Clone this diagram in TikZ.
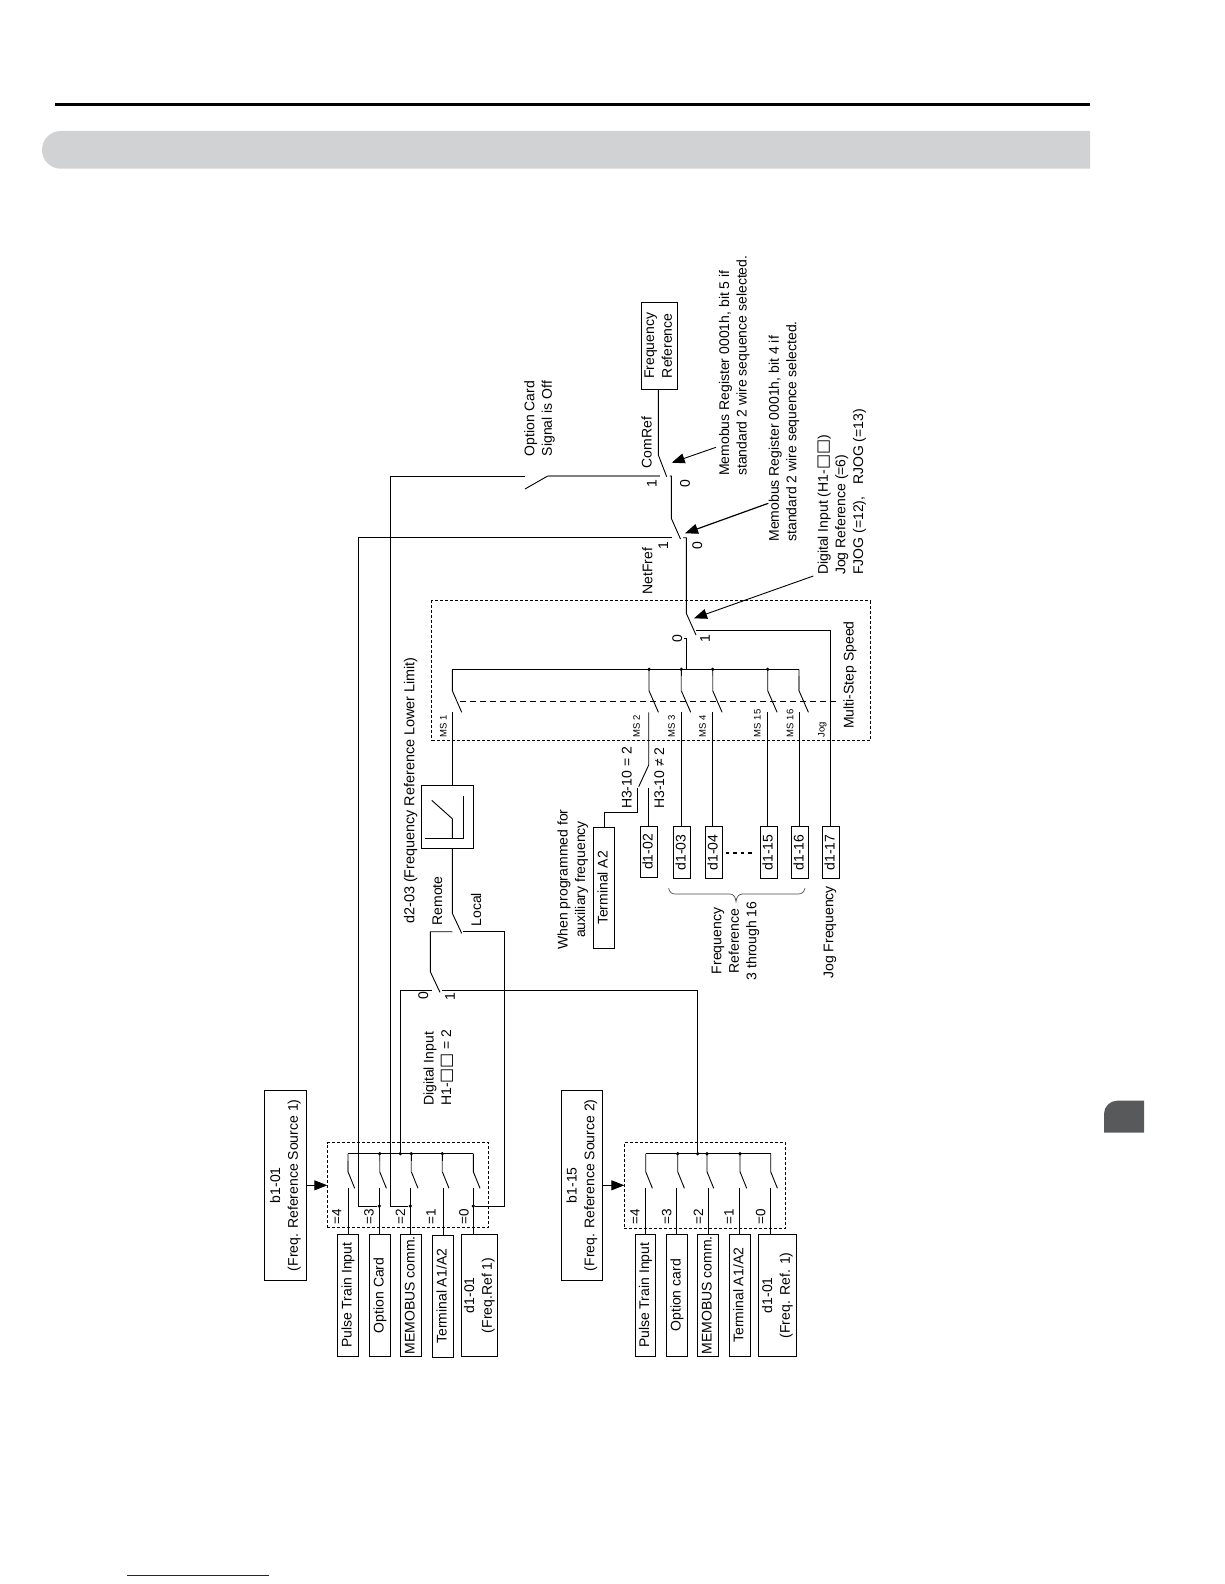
\documentclass[tikz,border=0pt]{standalone}
\usepackage{graphicx}
\usepackage{fontspec}
\setmainfont{Liberation Sans}
\newfontfamily\djv{DejaVu Sans}
\usetikzlibrary{arrows.meta}
\definecolor{barg}{HTML}{D1D2D4}
\definecolor{tabg}{HTML}{58595B}
\definecolor{linkb}{HTML}{1A1A8C}
\newcommand{\labf}{\fontsize{14}{17.6}\selectfont}
\newcommand{\rottxt}[1]{\rotatebox{90}{\begin{tabular}{@{}c@{}}#1\end{tabular}}}
\newcommand{\sqq}{{\djv\fontsize{16}{17.6}\selectfont □□}}
\tikzset{
  wire/.style={draw=black,line width=0.9pt},
  wgray/.style={draw=black!50,line width=1.3pt},
  bx/.style={draw=black,line width=0.9pt,inner sep=0pt,outer sep=0pt,font=\labf,fill=white},
  dbox/.style={draw=black,line width=0.8pt,dash pattern=on 3pt off 2pt,inner sep=0pt,outer sep=0pt},
  lab/.style={rotate=90,font=\labf,align=center,inner sep=0pt},
  labl/.style={rotate=90,font=\labf,align=left,inner sep=0pt,anchor=west},
  eqlab/.style={rotate=90,font=\fontsize{13.5}{15}\selectfont,inner sep=0pt},
  mslab/.style={rotate=90,font=\fontsize{9.5}{11}\selectfont,inner sep=0pt},
  jdot/.style={circle,fill=black,inner sep=0pt,minimum size=3.6pt},
  arr/.style={draw=black,line width=0.9pt,-{Triangle[length=13pt,width=10pt]}},
  barr/.style={draw=black,line width=0.9pt,-{Triangle[length=13pt,width=10pt]}}
}
\begin{document}
\begin{tikzpicture}[x=1pt,y=-1pt]
\useasboundingbox (0,0) rectangle (1224,1584);
\fill[white] (0,0) rectangle (1224,1584);
% page furniture
\fill[black] (55,103) rectangle (1090,106);
\fill[barg] (1090,131) -- (60.8,131) .. controls (50.4,131) and (42,139.4) .. (42,149.85) .. controls (42,160.3) and (50.4,168.7) .. (60.8,168.7) -- (1090,168.7) -- cycle;
\fill[tabg] (1144,1100.7) -- (1117,1100.7) .. controls (1110,1100.7) and (1104,1106.7) .. (1104,1113.7) -- (1104,1132.7) -- (1144,1132.7) -- cycle;
\draw[linkb,line width=1pt] (127.3,1575) -- (268.7,1575);

% source selectors: dashed boxes
\node[dbox,minimum width=161.4pt,minimum height=85pt] (selA) at (408,1185.3) {};
\node[dbox,minimum width=161.4pt,minimum height=86pt] (selB) at (705,1185.3) {};
\node[dbox,minimum width=438.3pt,minimum height=139.6pt] (msbox) at (650.85,670.5) {};

% parameter boxes
\node[bx,minimum width=42.4pt,minimum height=190pt] (b101) at (285.5,1185.3) {\rottxt{b1-01\\(Freq. Reference Source 1)}};
\node[bx,minimum width=41.4pt,minimum height=190pt] (b115) at (582,1185.3) {\rottxt{b1-15\\(Freq. Reference Source 2)}};

\node[bx,minimum width=21.4pt,minimum height=122pt] (pA) at (348,1295.3) {\rottxt{Pulse Train Input}};
\node[bx,minimum width=21.4pt,minimum height=122pt] (oA) at (380,1295.3) {\rottxt{Option Card}};
\node[bx,minimum width=21.4pt,minimum height=122pt] (mA) at (411,1295.3) {\rottxt{MEMOBUS comm.}};
\node[bx,minimum width=21.4pt,minimum height=122pt] (tA) at (443,1296.3) {\rottxt{Terminal A1/A2}};
\node[bx,minimum width=36.4pt,minimum height=122pt] (dA) at (479.5,1295.3) {\rottxt{d1-01\\(Freq.Ref 1)}};

\node[bx,minimum width=20.4pt,minimum height=122pt] (pB) at (645.5,1295.3) {\rottxt{Pulse Train Input}};
\node[bx,minimum width=21.4pt,minimum height=122pt] (oB) at (677,1295.3) {\rottxt{Option card}};
\node[bx,minimum width=21.4pt,minimum height=122pt] (mB) at (708,1295.3) {\rottxt{MEMOBUS comm.}};
\node[bx,minimum width=21pt,minimum height=122pt] (tB) at (739.8,1295.3) {\rottxt{Terminal A1/A2}};
\node[bx,minimum width=38.4pt,minimum height=122pt] (dB) at (777.5,1295.3) {\rottxt{d1-01\\(Freq. Ref. 1)}};

\node[bx,minimum width=52pt,minimum height=63pt] (lim) at (447.3,816.8) {};
\node[bx,minimum width=21pt,minimum height=120.6pt] (ta2) at (604.2,888) {\rottxt{Terminal A2}};
\node[bx,minimum width=17.4pt,minimum height=50.6pt] (d102) at (649,852) {\rottxt{d1-02}};
\node[bx,minimum width=17.4pt,minimum height=51.6pt] (d103) at (682,852.5) {\rottxt{d1-03}};
\node[bx,minimum width=17.4pt,minimum height=51.6pt] (d104) at (714,852.5) {\rottxt{d1-04}};
\node[bx,minimum width=17.4pt,minimum height=51.6pt] (d115) at (769,852.5) {\rottxt{d1-15}};
\node[bx,minimum width=17.4pt,minimum height=51.6pt] (d116) at (800,852.5) {\rottxt{d1-16}};
\node[bx,minimum width=17.4pt,minimum height=51.6pt] (d117) at (831,852.5) {\rottxt{d1-17}};
\node[bx,minimum width=34.4pt,minimum height=87pt] (freq) at (659.5,345.8) {\rottxt{Frequency\\Reference}};

% limiter symbol
\coordinate (lim1) at (431.7,800.3);
\coordinate (lim2) at (452.3,818.7);
\coordinate (lim3) at (452.3,838.3);
\coordinate (lim4) at (425,838.3);
\coordinate (lim5) at (463.3,838.3);
\coordinate (lim6) at (463.3,796);
\draw[wire] (lim1) -- (lim2) -- (lim3);
\draw[wire] (lim4) -- (lim5) -- (lim6);

% arrows into selectors
\draw[barr] (b101.east) -- (selA.west);
\draw[barr] (b115.east) -- (selB.west);

% switch coordinates
\foreach \i/\x/\lx in {1/348/348.3,2/379.7/379.3,3/411.3/410.3,4/442.3/443.3,5/473.3/473.3}{
  \coordinate (A\i bus) at (\x,1153.7);
  \coordinate (A\i piv) at (\x,1171.7);
  \coordinate (A\i tip) at (\x+6.7,1188.3);
  \coordinate (A\i con) at (\lx,1188.3);
  \coordinate (A\i mid) at (\x,1161);
}
\foreach \i/\x/\lx in {1/645.7/645.7,2/677.7/676.3,3/707/708.7,4/740/739.7,5/770.7/770.7}{
  \coordinate (B\i bus) at (\x,1153.7);
  \coordinate (B\i piv) at (\x,1171.7);
  \coordinate (B\i tip) at (\x+6.7,1188.3);
  \coordinate (B\i con) at (\lx,1188.3);
}
\foreach \n/\x/\lx in {1/452.3/452.3,2/649/648.7,3/681.3/681.3,4/712.7/712.3,5/767.7/767.7,6/799/799.3}{
  \coordinate (M\n bus) at (\x,669.3);
  \coordinate (M\n piv) at (\x,690.7);
  \coordinate (M\n tip) at (\x+9.4,712.3);
  \coordinate (M\n con) at (\lx,712.3);
  \coordinate (M\n mid) at (\x,676);
}

% selector A and B
\draw[wire] (A1bus) -- (A5bus);
\draw[wire] (B1bus) -- (B5bus);
\foreach \i in {1,...,5}{
  \draw[wire] (A\i bus) -- (A\i piv) -- (A\i tip);
  \draw[wire] (B\i bus) -- (B\i piv) -- (B\i tip);
}
\foreach \i in {1,...,4}{ \draw[wgray] (A\i mid) -- (A\i piv); }
\draw[wire] (A1con) -- (A1con |- pA.north);
\draw[wire] (A2con) -- (A2con |- oA.north);
\draw[wire] (A3con) -- (A3con |- mA.north);
\draw[wire] (A4con) -- (A4con |- tA.north);
\draw[wire] (A5con) -- (A5con |- dA.north);
\draw[wire] (B1con) -- (B1con |- pB.north);
\draw[wire] (B2con) -- (B2con |- oB.north);
\draw[wire] (B3con) -- (B3con |- mB.north);
\draw[wire] (B4con) -- (B4con |- tB.north);
\draw[wire] (B5con) -- (B5con |- dB.north);

% junction dots
\node[jdot] (jA2) at (A2bus) {};
\node[jdot] (jA0) at (400.3,1153.7) {};
\node[jdot] (jA3) at (A3bus) {};
\node[jdot] (jA4) at (A4bus) {};
\node[jdot] (jB2) at (B2bus) {};
\node[jdot] (jB0) at (697.7,1153.7) {};
\node[jdot] (jB3) at (B3bus) {};
\node[jdot] (jB4) at (B4bus) {};
\node[jdot] (jO) at (379.3,1206) {};
\node[jdot] (jM) at (410.3,1206) {};
\node[jdot] (jD) at (473.3,1206) {};

% multi-step section
\draw[wire] (M1bus) -- (M6bus);
\foreach \n in {1,...,6}{ \draw[wire] (M\n bus) -- (M\n piv) -- (M\n tip); }
\foreach \n in {3,4,6}{ \draw[wgray] (M\n mid) -- (M\n piv); }
\node[jdot] (jM2) at (M2bus) {};
\node[jdot] (jM3) at (M3bus) {};
\node[jdot] (jM4) at (M4bus) {};
\node[jdot] (jM5) at (M5bus) {};
\draw[wire] (M1con) -- (M1con |- lim.north);
\draw[wire] (M3con) -- (M3con |- d103.north);
\draw[wire] (M4con) -- (M4con |- d104.north);
\draw[wire] (M5con) -- (M5con |- d115.north);
\draw[wire] (M6con) -- (M6con |- d116.north);
\coordinate (midA) at (460,701.7);
\coordinate (midB) at (836.7,701.7);
\draw[draw=black,line width=0.8pt,dash pattern=on 6pt off 4pt] (midA) -- (midB);

% H3-10 switch
\coordinate (hP) at (648.7,765);
\coordinate (hT) at (638.7,786.7);
\coordinate (hA) at (637.7,787.7);
\coordinate (hAb) at (637.7,812.3);
\coordinate (hAc) at (604.3,812.3);
\coordinate (hB) at (648.7,787.7);
\draw[wire] (M2con) -- (hP) -- (hT);
\draw[wire] (hA) -- (hAb) -- (hAc) -- (hAc |- ta2.north);
\draw[wire] (hB) -- (hB |- d102.north);

% remote/local and digital input switches
\coordinate (rP) at (452.3,913.3);
\coordinate (rT) at (461.7,933.3);
\coordinate (rR) at (452.3,931.7);
\coordinate (rRa) at (430.3,931.7);
\coordinate (dP) at (430.3,971.7);
\coordinate (dT) at (440,992.3);
\coordinate (rL) at (463.3,931.7);
\coordinate (rLa) at (504.5,931.7);
\coordinate (dZ) at (431.7,990.7);
\coordinate (dZa) at (400.3,990.7);
\coordinate (dO) at (441.7,990.7);
\coordinate (dOa) at (697.7,990.7);
\draw[wire] (M1con |- lim.south) -- (rP) -- (rT);
\draw[wire] (rR) -- (rRa) -- (dP) -- (dT);
\draw[wire] (rL) -- (rLa) -- (rLa |- jD) -- (jD);
\draw[wire] (dZ) -- (dZa) -- (jA0);
\draw[wire] (dO) -- (dOa) -- (jB0);

% right-hand switches
\coordinate (cP) at (658.3,455);
\coordinate (cT) at (666.7,476.7);
\coordinate (cZt) at (669.7,476);
\coordinate (cZ) at (671.3,476);
\coordinate (nP) at (671.3,518.3);
\coordinate (nT) at (680.5,539);
\coordinate (nOne) at (672.3,537.7);
\coordinate (nZt) at (683,537.7);
\coordinate (nZ) at (686.3,537.7);
\coordinate (jP) at (686.3,613.3);
\coordinate (jT) at (696,635);
\coordinate (jZt) at (683.5,638.3);
\coordinate (jZ) at (686.3,638.3);
\coordinate (jB) at (686.3,669.3);
\coordinate (jO1) at (696,630.7);
\coordinate (jO2) at (830.5,630.7);
\coordinate (oL) at (525,476);
\coordinate (oT) at (525,489);
\coordinate (oP) at (547.7,476);
\coordinate (oR) at (660,476);
\coordinate (sN) at (358.3,537.7);
\coordinate (sNb) at (358.3,1206);
\coordinate (sO) at (390.3,476);
\coordinate (sOb) at (390.3,1206);

\draw[wire] (cP |- freq.south) -- (cP) -- (cT);
\draw[wire] (cZt) -- (cZ) -- (nP) -- (nT);
\draw[wire] (nZt) -- (nZ) -- (jP) -- (jT);
\draw[wire] (jZt) -- (jZ) -- (jB);
\draw[wire] (jO1) -- (jO2) -- (jO2 |- d117.north);
\draw[wire] (jO) -- (sNb) -- (sN) -- (nOne);
\draw[wire] (jM) -- (sOb) -- (sO) -- (oL);
\draw[wire] (oT) -- (oP);
\draw[wgray] (oP) -- (oR);

% pointers
\coordinate (a1s) at (716,447.3);
\coordinate (a1e) at (671.7,462.7);
\coordinate (a2s) at (768.3,503.3);
\coordinate (a2e) at (685,533.3);
\coordinate (a3s) at (813.3,576);
\coordinate (a3e) at (694,618.3);
\draw[arr] (a1s) -- (a1e);
\draw[arr,line width=1.2pt] (a2s) -- (a2e);
\draw[arr] (a3s) -- (a3e);

% brace and ellipsis
\draw[black!70,line width=0.7pt] (668.7,888.3) .. controls (669.5,892) and (671.5,894) .. (675,894) -- (730,894) .. controls (733,894) and (735.5,896.5) .. (736,901.7) .. controls (736.5,896.5) and (739,894) .. (742.7,894) -- (798.3,894) .. controls (802,894) and (804,892) .. (805,888.3);
\coordinate (elA) at (725.7,852.7);
\coordinate (elB) at (751.7,852.7);
\draw[black,line width=2pt,dash pattern=on 3.5pt off 4pt] (elA) -- (elB);

% labels
\node[eqlab] (qa4) at (336.7,1216.5) {=4};
\node[eqlab] (qa3) at (369,1216.5) {=3};
\node[eqlab] (qa2) at (400.3,1216.5) {=2};
\node[eqlab] (qa1) at (431,1216.5) {=1};
\node[eqlab] (qa0) at (464,1216.5) {=0};
\node[eqlab] (qb4) at (635,1216.5) {=4};
\node[eqlab] (qb3) at (666.7,1216.5) {=3};
\node[eqlab] (qb2) at (698.3,1216.5) {=2};
\node[eqlab] (qb1) at (729,1216.5) {=1};
\node[eqlab] (qb0) at (760.7,1216.5) {=0};

\node[mslab] (ms1) at (443.3,726) {MS 1};
\node[mslab] (ms2) at (636.7,726) {MS 2};
\node[mslab] (ms3) at (671.7,726) {MS 3};
\node[mslab] (ms4) at (702.7,726) {MS 4};
\node[mslab] (ms15) at (757.3,723.3) {MS 15};
\node[mslab] (ms16) at (790,723.3) {MS 16};
\node[mslab] (msj) at (822.3,730) {Jog};
\node[lab] (lms) at (850,675) {Multi-Step Speed};

\node[labl] (ldi) at (438.3,1106) {Digital Input\\H1-\sqq\ = 2};
\node[lab,font=\fontsize{14.4}{17.6}\selectfont] (ld2) at (410.7,790.5) {d2-03 (Frequency Reference Lower Limit)};
\node[lab] (lrm) at (437.3,901) {Remote};
\node[lab] (llc) at (476,909.7) {Local};
\node[lab] (s0a) at (423.3,996) {0};
\node[lab] (s1a) at (450,996.7) {1};
\node[lab] (lwp) at (572.8,879.5) {When programmed for\\auxiliary frequency};
\node[lab] (lh2) at (626.7,778) {H3-10 = 2};
\node[lab] (lhn) at (659.3,778) {H3-10 ≠ 2};
\node[lab] (lfr) at (735.5,941) {Frequency\\Reference\\3 through 16};
\node[lab] (ljf) at (830,932.3) {Jog Frequency};
\node[lab] (loc) at (539.5,418.5) {Option Card\\Signal is Off};
\node[lab] (lcr) at (646.7,442.7) {ComRef};
\node[lab] (s1c) at (651.7,484) {1};
\node[lab] (s0c) at (685,484) {0};
\node[lab] (lnf) at (647.3,571) {NetFref};
\node[lab] (s1n) at (663.3,545.7) {1};
\node[lab] (s0n) at (697.3,545.7) {0};
\node[lab] (s0j) at (677.3,639) {0};
\node[lab] (s1j) at (705,639) {1};
\node[labl] (lm5) at (734.2,476) {Memobus Register 0001h, bit 5 if\\standard 2 wire sequence selected.};
\node[labl] (lm4) at (784,541.7) {Memobus Register 0001h, bit 4 if\\standard 2 wire sequence selected.};
\node[labl] (ldj) at (841.7,575) {Digital Input (H1-\sqq)\\Jog Reference (=6)\\FJOG (=12),\ \ \ RJOG (=13)};
\end{tikzpicture}
\end{document}
